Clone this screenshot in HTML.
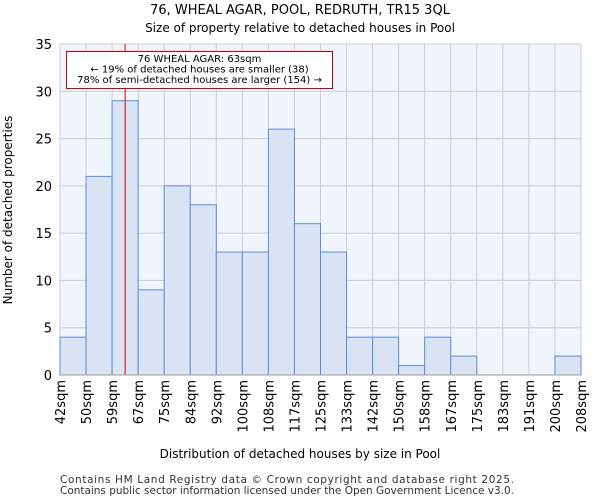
<!DOCTYPE html>
<html><head><meta charset="utf-8"><style>
body{margin:0;background:#fff;font-family:"DejaVu Sans","Liberation Sans",sans-serif}
svg text{font-family:"DejaVu Sans","Liberation Sans",sans-serif}
</style></head><body>
<svg id="c" width="600" height="500" xmlns="http://www.w3.org/2000/svg">
<text x="300" y="14" font-size="13" text-anchor="middle" fill="#000">76, WHEAL AGAR, POOL, REDRUTH, TR15 3QL</text>
<text x="300" y="32" font-size="12" text-anchor="middle" fill="#000">Size of property relative to detached houses in Pool</text>
<rect x="60" y="44" width="521" height="331" fill="#f0f4fc"/>
<g id="grid"></g><g id="bars"></g><g id="axes"></g>
<text x="300" y="458" font-size="12" text-anchor="middle">Distribution of detached houses by size in Pool</text>
<text transform="translate(12,210) rotate(-90)" font-size="12" text-anchor="middle">Number of detached properties</text>
<text x="60" y="483" font-size="10.5" fill="#333" textLength="454">Contains HM Land Registry data © Crown copyright and database right 2025.</text>
<text x="60" y="494" font-size="10.5" fill="#333" textLength="454">Contains public sector information licensed under the Open Government Licence v3.0.</text>
</svg>
<script>
const categories=["42sqm","50sqm","59sqm","67sqm","75sqm","84sqm","92sqm","100sqm","108sqm","117sqm","125sqm","133sqm","142sqm","150sqm","158sqm","167sqm","175sqm","183sqm","191sqm","200sqm","208sqm"];
const counts=[4,21,29,9,20,18,13,13,26,16,13,4,4,1,4,2,0,0,0,2];
const yTicks=[0,5,10,15,20,25,30,35];
const markerValue=63;
const markerLow=59, markerHigh=67, markerBin=2;
const NS="http://www.w3.org/2000/svg";
const L=60,R=581,T=44,B=375,yMax=35;
const bw=(R-L)/counts.length;
const x=i=>L+i*bw;
const y=v=>B-(v/yMax)*(B-T);
function mk(tag,attrs,parent){const e=document.createElementNS(NS,tag);for(const k in attrs)e.setAttribute(k,attrs[k]);parent.appendChild(e);return e;}
const grid=document.getElementById('grid'),bars=document.getElementById('bars'),axes=document.getElementById('axes');
yTicks.forEach(t=>{
 const g=mk('line',{x1:L,x2:R,y1:y(t),y2:y(t),stroke:'#ccc','stroke-width':1},grid);
 
 
 const tx=mk('text',{x:L-8,y:y(t)+5,'font-size':13,'text-anchor':'end'},axes);
 tx.textContent=t;
 
 
});
categories.forEach((c,i)=>{
 const g=mk('line',{x1:x(i),x2:x(i),y1:T,y2:B,stroke:'#ccc','stroke-width':1},grid);
 
 
 const tx=mk('text',{transform:`translate(${x(i)+5},380) rotate(-90)`,'font-size':13,'text-anchor':'end'},axes);
 tx.textContent=c;
 
 
});
counts.forEach((v,i)=>{
 if(v<=0)return;
 const r=mk('rect',{x:x(i),y:y(v),width:bw,height:B-y(v),fill:'#dae3f3',stroke:'#5b8fd6','stroke-width':1},bars);
 
 
});
const mx=x(markerBin)+(markerValue-markerLow)/(markerHigh-markerLow)*bw;
const ml=mk('line',{x1:mx,x2:mx,y1:T,y2:B,stroke:'#dd0000','stroke-width':1},axes);


const ax=mk('line',{x1:L,x2:R,y1:B,y2:B,stroke:'#999'},axes);


const box=mk('rect',{x:66.5,y:51.5,width:266,height:37,fill:'#fff',stroke:'#cc0000','stroke-width':1},axes);


["76 WHEAL AGAR: 63sqm","← 19% of detached houses are smaller (38)","78% of semi-detached houses are larger (154) →"].forEach((s,i)=>{
 const t=mk('text',{x:199.5,y:62+i*10.5,'font-size':10,'text-anchor':'middle'},axes);
 t.textContent=s;
 
 
});
</script>
</body></html>
